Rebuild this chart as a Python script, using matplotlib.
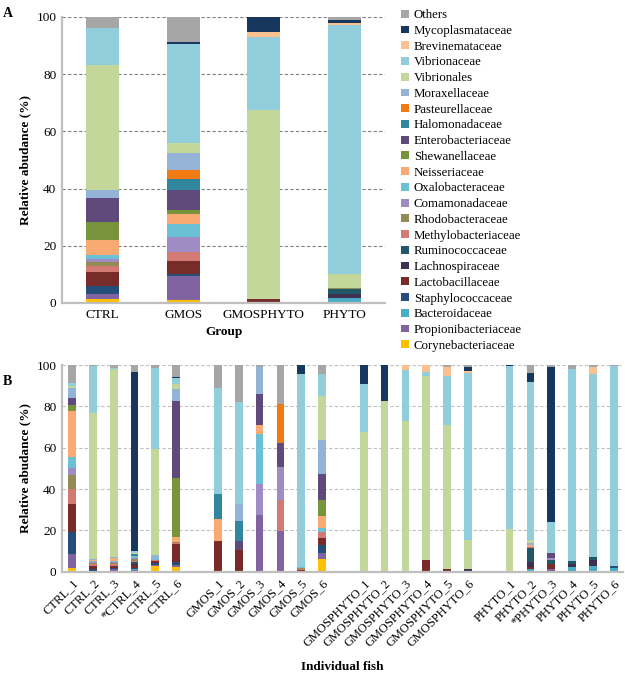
import matplotlib
matplotlib.use("Agg")
import matplotlib.pyplot as plt
import numpy as np

plt.rcParams['font.family'] = 'serif'
plt.rcParams['font.serif'] = ['Liberation Serif', 'DejaVu Serif']

# taxa, bottom of the stack first
taxa = ['Corynebacteriaceae', 'Propionibacteriaceae', 'Bacteroidaceae', 'Staphylococcaceae',
        'Lactobacillaceae', 'Lachnospiraceae', 'Ruminococcaceae', 'Methylobacteriaceae',
        'Rhodobacteraceae', 'Comamonadaceae', 'Oxalobacteraceae', 'Neisseriaceae',
        'Shewanellaceae', 'Enterobacteriaceae', 'Halomonadaceae', 'Pasteurellaceae',
        'Moraxellaceae', 'Vibrionales', 'Vibrionaceae', 'Brevinemataceae',
        'Mycoplasmataceae', 'Others']
colors = ['#FFC000', '#8064A2', '#4BACC6', '#254E7B', '#772C2A', '#403152', '#215968',
          '#D47A75', '#948A54', '#A08CC4', '#6CC0D6', '#F9AA72', '#77933C', '#604A7B',
          '#31859C', '#F17A12', '#95B3D7', '#C4D79B', '#92CDDC', '#FAC090', '#17375E',
          '#A6A6A6']

groups = ['CTRL', 'GMOS', 'GMOSPHYTO', 'PHYTO']
# one row per group, one column per taxon (%)
group_data = [
    [1.5, 1.6, 0.2, 2.5, 5.0, 0, 0, 2.2, 1.4, 0.8, 1.5, 5.4, 6.3, 8.4, 0, 0, 2.6, 43.8, 13.1, 0, 0, 3.7],
    [0.9, 8.5, 0, 0.7, 4.6, 0, 0, 3.2, 0, 5.3, 4.4, 3.5, 1.4, 7.0, 3.7, 3.2, 6.2, 3.5, 34.3, 0, 0.8, 8.8],
    [0, 0, 0, 0, 1.5, 0, 0, 0, 0, 0, 0, 0, 0, 0, 0, 0, 0, 66.0, 25.6, 1.6, 5.3, 0],
    [0, 0, 1.6, 0, 0, 1.7, 1.7, 0, 0.3, 0, 0, 0, 0, 0, 0, 0, 0, 4.7, 87.1, 0.8, 0.9, 1.2],
]

fish = ['CTRL_1', 'CTRL_2', 'CTRL_3', '*CTRL_4', 'CTRL_5', 'CTRL_6',
        'GMOS_1', 'GMOS_2', 'GMOS_3', 'GMOS_4', 'GMOS_5', 'GMOS_6',
        'GMOSPHYTO_1', 'GMOSPHYTO_2', 'GMOSPHYTO_3', 'GMOSPHYTO_4', 'GMOSPHYTO_5', 'GMOSPHYTO_6',
        'PHYTO_1', 'PHYTO_2', '*PHYTO_3', 'PHYTO_4', 'PHYTO_5', 'PHYTO_6']
fish_data = [
    [1.9, 6.6, 0, 10.9, 13.3, 0, 0, 7.1, 7.0, 3.5, 5.3, 22.1, 2.8, 3.7, 0, 0, 4.5, 1.0, 1.4, 0, 0, 8.9],
    [0, 0.5, 0, 1.0, 1.5, 0, 0, 0.8, 0.5, 0.4, 0.6, 0.3, 0, 0, 0, 0, 0.4, 71.0, 22.4, 0, 0, 0.6],
    [0, 1.3, 0, 0.5, 1.0, 0, 0, 1.0, 0.5, 0.5, 0.5, 1.2, 0, 0, 0, 0, 0.5, 91.2, 0.3, 0, 0, 1.5],
    [0.3, 0.5, 0.5, 0.5, 1.5, 0.3, 1.0, 0.8, 0.8, 0.5, 1.0, 0, 0, 0, 1.0, 0, 0, 0.5, 1.0, 0, 86.3, 3.5],
    [2.9, 0.5, 0, 0.8, 0.8, 0, 0, 0.5, 0, 0, 0.5, 0, 0, 0, 0, 0, 2.1, 51.1, 39.2, 0, 0, 1.6],
    [2.4, 0.8, 0, 1.6, 8.6, 0, 0, 0.6, 0.5, 0, 0, 2.4, 28.3, 37.5, 0, 0, 5.5, 2.6, 3.1, 0, 0.5, 5.6],
    [0, 0, 0, 0, 14.7, 0, 0, 0, 0, 0, 0, 10.9, 0, 0, 11.8, 0, 0, 0, 51.3, 0, 0, 11.3],
    [0, 0, 0, 0, 10.5, 0, 0, 0, 0, 0, 0, 0, 0, 4.2, 9.8, 0, 8.2, 0, 49.6, 0, 0, 17.7],
    [0, 27.4, 0, 0, 0, 0, 0, 0, 0, 15.0, 24.2, 4.2, 0, 15.2, 0, 0, 13.2, 0, 0, 0, 0, 0.8],
    [0, 19.7, 0, 0, 0, 0, 0, 15.0, 0, 16.1, 0, 0, 0, 11.3, 0, 19.0, 0, 0, 0, 0, 0, 18.9],
    [0, 0, 0, 0, 0.7, 0, 0, 0.4, 0.5, 0, 0.5, 0, 0, 0, 0, 0, 0, 0, 93.5, 0, 4.4, 0],
    [6.1, 3.1, 0, 3.7, 3.2, 0, 0, 2.9, 0, 0, 2.3, 5.6, 7.8, 12.6, 0, 0, 16.4, 21.3, 10.6, 0, 0, 4.4],
    [0, 0, 0, 0, 0, 0, 0, 0, 0, 0, 0, 0, 0, 0, 0, 0, 0, 67.7, 23.1, 0, 9.2, 0],
    [0, 0, 0, 0, 0, 0, 0, 0, 0, 0, 0, 0, 0, 0, 0, 0, 0, 82.4, 0, 0, 17.6, 0],
    [0, 0, 0, 0, 0, 0, 0, 0, 0, 0, 0, 0, 0, 0, 0, 0, 0, 72.9, 24.7, 2.4, 0, 0],
    [0, 0, 0, 0, 5.6, 0, 0, 0, 0, 0, 0, 0, 0, 0, 0, 0, 0, 89.2, 2.0, 3.2, 0, 0],
    [0, 0, 0, 0, 1.3, 0, 0, 0, 0, 0, 0, 0, 0, 0, 0, 0, 0, 69.7, 23.7, 4.5, 0, 0.8],
    [0, 0, 0, 0, 0, 1.3, 0, 0, 0, 0, 0, 0, 0, 0, 0, 0, 0, 14.0, 80.7, 1.1, 2.1, 0.8],
    [0, 0, 0, 0, 0, 0, 0, 0, 0, 0, 0, 0, 0, 0, 0, 0, 0, 20.6, 78.9, 0, 0.5, 0],
    [0, 0, 1.1, 0, 1.3, 2.4, 6.8, 0.6, 0, 0, 0, 0.9, 0, 0, 0, 0, 0.9, 1.3, 76.3, 0, 4.4, 4.0],
    [0, 1.1, 0, 0, 2.4, 0, 2.1, 0, 0, 0.9, 0, 0, 0, 2.7, 0, 0, 0, 0, 14.8, 0, 75.2, 0.8],
    [0, 0, 2.4, 0, 0, 1.1, 1.7, 0, 0, 0, 0, 0, 0, 0, 0, 0, 0, 0, 92.7, 0, 0, 2.1],
    [0, 0, 2.7, 0, 0, 2.9, 1.7, 0, 0, 0, 0, 0, 0, 0, 0, 0, 0, 0, 88.3, 3.6, 0, 0.8],
    [0, 0, 1.6, 1.3, 0, 0, 0, 0, 0, 0, 0, 0, 0, 0, 0, 0, 0, 0, 96.6, 0, 0, 0.5],
]
# positions: one empty slot between groups
fish_pos = [0, 1, 2, 3, 4, 5, 7, 8, 9, 10, 11, 12, 14, 15, 16, 17, 18, 19, 21, 22, 23, 24, 25, 26]


def stacked(ax, pos, data, width):
    data = np.array(data, dtype=float)
    bottom = np.zeros(len(pos))
    handles = []
    for j, name in enumerate(taxa):
        h = ax.bar(pos, data[:, j], width, bottom=bottom, color=colors[j], label=name, linewidth=0)
        handles.append(h)
        bottom += data[:, j]
    return handles


def style(ax, gridcol):
    ax.set_ylim(0, 100)
    ax.set_yticks(range(0, 101, 20))
    ax.yaxis.grid(True, linestyle=(0, (3, 2)), color=gridcol, linewidth=0.8)
    ax.set_axisbelow(True)
    for s in ['top', 'right']:
        ax.spines[s].set_visible(False)
    for s in ['left', 'bottom']:
        ax.spines[s].set_color('#BFBFBF')
        ax.spines[s].set_linewidth(1.6)
    ax.tick_params(length=0, labelsize=9.5, pad=4)
    ax.set_ylabel('Relative abudance (%)', fontweight='bold', fontsize=9.5)


fig = plt.figure(figsize=(6.25, 6.79), dpi=100)

axA = fig.add_axes([0.0992, 0.5538, 0.5168, 0.4212])
handles = stacked(axA, np.arange(len(groups)), group_data, 0.41)
style(axA, '#808080')
axA.set_xlim(-0.5, 3.5)
axA.set_xticks(np.arange(len(groups)))
axA.set_xticklabels(groups)
axA.set_xlabel('Group', fontweight='bold', fontsize=9.5, labelpad=4)
fig.legend(handles[::-1], taxa[::-1], loc='upper left', bbox_to_anchor=(0.634, 0.994),
           frameon=False, fontsize=9.3, handlelength=0.55, handleheight=0.55,
           handletextpad=0.4, labelspacing=0.29, borderaxespad=0)

axB = fig.add_axes([0.0992, 0.158, 0.8978, 0.3044])
stacked(axB, fish_pos, fish_data, 0.37)
style(axB, '#BFBFBF')
axB.set_xlim(-0.48, 26.45)
axB.set_xticks(fish_pos)
axB.set_xticklabels(fish, rotation=45, ha='right', rotation_mode='anchor', fontsize=9)
axB.set_xlabel('Individual fish', fontweight='bold', fontsize=9.5)
axB.xaxis.set_label_coords(0.5, -0.43)

fig.text(0.005, 0.99, 'A', fontweight='bold', fontsize=10, va='top')
fig.text(0.005, 0.447, 'B', fontweight='bold', fontsize=10, va='top')

fig.savefig('out.png', dpi=100)
